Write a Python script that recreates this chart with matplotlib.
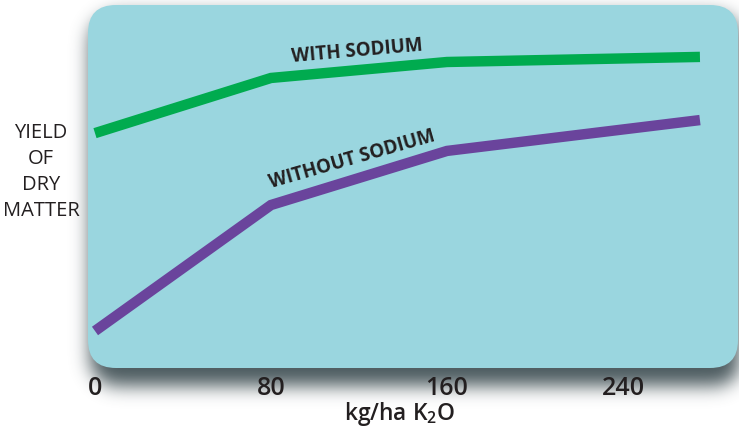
import numpy as np
import matplotlib.pyplot as plt
from matplotlib.patches import FancyBboxPatch

plt.rcParams['font.family'] = ['Open Sans', 'DejaVu Sans']
plt.rcParams['mathtext.fontset'] = 'custom'
plt.rcParams['mathtext.rm'] = 'Open Sans'

# data (yield in relative units, 0-100)
k2o = [0, 80, 160, 275]
with_sodium = [64.7, 79.9, 84.3, 85.7]
without_sodium = [10.2, 44.9, 59.8, 68.3]
tick_values = [0, 80, 160, 240]
tick_labels = ["0", "80", "160", "240"]

TEXT_COL = "#231f20"
PANEL_COL = "#9ad6df"
GREEN = "#00ab4f"
PURPLE = "#6a449c"

W, H = 739, 430
fig = plt.figure(figsize=(W / 100, H / 100), dpi=100)

# background axis in pixel coords, only for the panel and its shadow
ax_bg = fig.add_axes([0, 0, 1, 1])
ax_bg.set_xlim(0, W)
ax_bg.set_ylim(H, 0)
ax_bg.axis('off')


def rounded_mask(x0, y0, x1, y1, r):
    yy, xx = np.mgrid[0:H, 0:W] + 0.5
    cx = np.clip(xx, x0 + r, x1 - r)
    cy = np.clip(yy, y0 + r, y1 - r)
    return (((xx - cx) ** 2 + (yy - cy) ** 2) <= r * r).astype(float)


def blur(a, s):
    k = np.exp(-0.5 * (np.arange(-3 * s, 3 * s + 1) / s) ** 2)
    k /= k.sum()
    a = np.apply_along_axis(lambda m: np.convolve(m, k, mode='same'), 0, a)
    a = np.apply_along_axis(lambda m: np.convolve(m, k, mode='same'), 1, a)
    return a


shadow = blur(rounded_mask(90, 14, 742, 386, 28), 9)
rgba = np.zeros((H, W, 4))
rgba[..., 0] = 0.20
rgba[..., 1] = 0.27
rgba[..., 2] = 0.29
rgba[..., 3] = 0.88 * shadow
ax_bg.imshow(rgba, extent=[0, W, H, 0], interpolation='bilinear', zorder=1)

panel = FancyBboxPatch((88, 5), 650, 363, boxstyle="round,pad=0,rounding_size=28",
                       facecolor=PANEL_COL, edgecolor='none', zorder=2)
ax_bg.add_patch(panel)

# data axis sitting on the panel
ax = fig.add_axes([88 / W, (H - 368) / H, 650 / W, 363 / H])
ax.patch.set_alpha(0)
for s in ax.spines.values():
    s.set_visible(False)
ax.set_xlim(-3.18, 292.3)
ax.set_ylim(0, 100)
ax.set_yticks([])
ax.set_xticks(tick_values)
ax.set_xticklabels(tick_labels, fontsize=18, color=TEXT_COL, fontweight='semibold')
ax.tick_params(axis='x', length=0, pad=6)

ax.plot(k2o, with_sodium, color=GREEN, lw=7.5,
        solid_capstyle='butt', solid_joinstyle='miter')
ax.plot(k2o, without_sodium, color=PURPLE, lw=7.5,
        solid_capstyle='butt', solid_joinstyle='miter')

ax.text(119, 87.2, "WITH SODIUM", fontsize=13.5, fontweight='bold', color=TEXT_COL,
        ha='center', va='center', rotation=5, rotation_mode='anchor')
ax.text(117, 57.5, "WITHOUT SODIUM", fontsize=13.5, fontweight='bold', color=TEXT_COL,
        ha='center', va='center', rotation=16, rotation_mode='anchor')

fig.text(41 / W, 1 - 172 / H, "YIELD\nOF\nDRY\nMATTER", ha='center', va='center',
         multialignment='center', fontsize=14.5, linespacing=1.42, color=TEXT_COL)
fig.text(400 / W, 1 - 414 / H, r"kg/ha K$_\mathregular{2}$O", ha='center', va='center',
         fontsize=16.4, color=TEXT_COL, fontweight='semibold')

fig.savefig('out.png', dpi=100)
